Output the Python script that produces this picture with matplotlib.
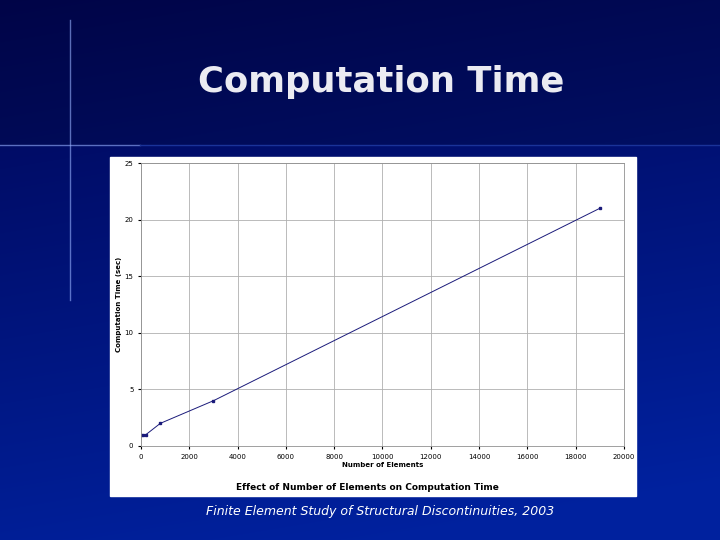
import matplotlib
matplotlib.use("Agg")
import matplotlib.pyplot as plt
import numpy as np

elements = [0, 100, 200, 800, 3000, 19000]
times = [1, 1, 1, 2, 4, 21]
xticks = list(range(0, 20001, 2000))
yticks = [0, 5, 10, 15, 20, 25]

W, H = 720, 540
fig = plt.figure(figsize=(7.2, 5.4), dpi=100)
bg = fig.add_axes([0, 0, 1, 1])
grad = np.zeros((H, W, 3))
yy = np.linspace(0, 1, H)[:, None]
xx = np.linspace(0, 1, W)[None, :]
top = np.array([0.0, 0.02, 0.33]); bot = np.array([0.0, 0.13, 0.62])
t = np.clip(yy * 0.9 + xx * 0.2, 0, 1)
for c in range(3):
    grad[:, :, c] = top[c] * (1 - t) + bot[c] * t
grad[:145, :, :] = grad[:145, :, :] * 0.85
bg.imshow(grad, extent=[0, W, H, 0], aspect='auto')
bg.plot([70, 70], [20, 300], color=(0.6, 0.7, 1.0), lw=1, alpha=0.6)
bg.plot([0, 140], [145, 145], color=(0.6, 0.7, 1.0), lw=1, alpha=0.6)
bg.plot([140, 720], [145, 145], color=(0.1, 0.2, 0.6), lw=1)
bg.add_patch(plt.Rectangle((110, 157), 526, 339, color='white'))
bg.text(381, 82, "Computation Time", color=(0.92, 0.92, 0.95), fontsize=25.5,
        fontweight='bold', ha='center', va='center')
bg.text(380, 511, "Finite Element Study of Structural Discontinuities, 2003",
        color='white', fontsize=9, style='italic', ha='center', va='center')
bg.set_xlim(0, W); bg.set_ylim(H, 0); bg.axis('off')

ax = fig.add_axes([141 / W, 1 - 446 / H, (624 - 141) / W, (446 - 163) / H])
ax.plot(elements, times, color='#1a1a7a', lw=0.7, marker='s', ms=2)
ax.set_xlim(0, 20000); ax.set_ylim(0, 25)
ax.set_xticks(xticks); ax.set_yticks(yticks)
ax.tick_params(labelsize=5, length=2)
ax.grid(True, color='#b0b0b0', lw=0.6)
for s in ax.spines.values():
    s.set_color('#909090'); s.set_linewidth(0.6)
ax.set_xlabel("Number of Elements", fontsize=5, fontweight='bold', labelpad=2)
ax.set_ylabel("Computation Time (sec)", fontsize=5, fontweight='bold', labelpad=2)
bg.text(367, 488, "Effect of Number of Elements on Computation Time",
        fontsize=6.5, fontweight='bold', ha='center', va='center')
fig.savefig("out.png", dpi=100)
